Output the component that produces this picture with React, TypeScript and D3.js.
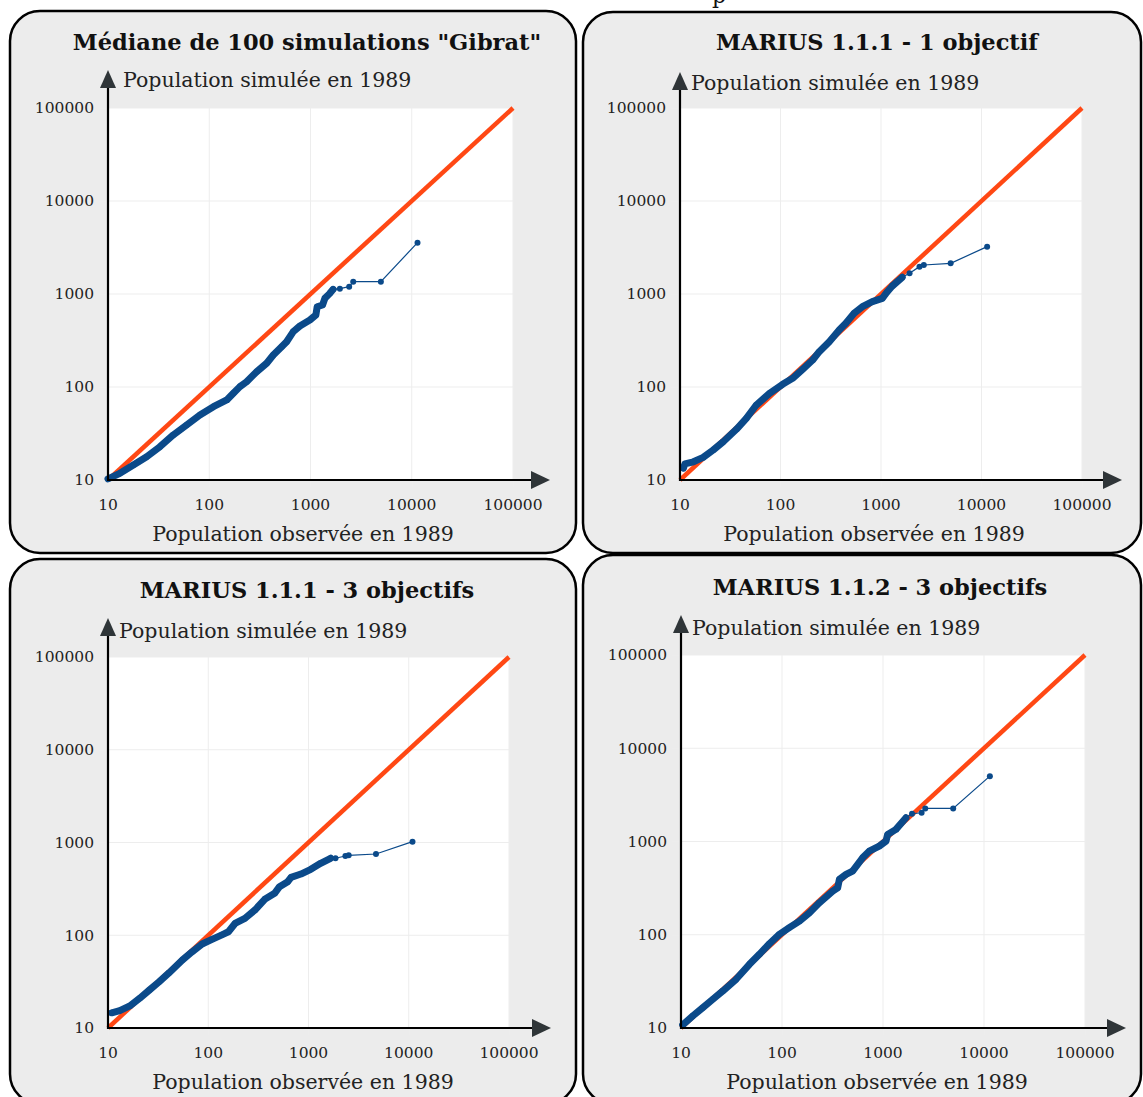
import React from 'react';
import * as d3 from 'd3';

const titles = [
  'Médiane de 100 simulations "Gibrat"',
  'MARIUS 1.1.1 - 1 objectif',
  'MARIUS 1.1.1 - 3 objectifs',
  'MARIUS 1.1.2 - 3 objectifs',
];
const tickValues = [10, 100, 1000, 10000, 100000];
const tickLabels = ['10', '100', '1000', '10000', '100000'];
const xAxisTitle = 'Population observée en 1989';
const yAxisTitle = 'Population simulée en 1989';

// Panel 1 : Médiane Gibrat
const obsGibrat = [10, 13.1, 17.8, 24.1, 32.6, 44.1, 59.8, 80.9, 110, 149, 173, 201, 234, 294, 369, 429, 519, 581, 676, 786, 986, 1130, 1164, 1315, 1387, 1553, 1675, 1950, 2410, 2642, 4955, 11400];
const simGibrat = [10.3, 11.8, 14.5, 17.8, 22.8, 30.5, 39, 50, 61.4, 72.5, 85.6, 101, 114, 146, 180, 221, 271, 307, 394, 453, 525, 594, 730, 762, 898, 1016, 1122, 1140, 1199, 1358, 1358, 3565];

// Panel 2 : MARIUS 1.1.1 - 1 objectif
const obsM111a = [10.8, 11.2, 13.6, 17, 21.4, 26.9, 36.4, 45.7, 57.4, 77.8, 105, 132, 166, 209, 243, 306, 384, 447, 540, 653, 820, 1030, 1156, 1295, 1626, 1924, 2415, 2667, 4932, 11380];
const simM111a = [13.4, 14.9, 15.7, 17.5, 21, 25.8, 35.1, 46, 64, 85.5, 107, 124, 155, 195, 240, 307, 410, 484, 620, 731, 827, 898, 1059, 1219, 1513, 1669, 1968, 2051, 2138, 3230];

// Panel 3 : MARIUS 1.1.1 - 3 objectifs
const obsM111c = [10.9, 13.1, 16.5, 20.7, 25.9, 32.5, 40.8, 55.2, 69.3, 86.9, 109, 137, 159, 185, 232, 292, 366, 459, 514, 621, 670, 840, 1054, 1322, 1660, 1859, 2333, 2518, 4710, 10900];
const simM111c = [14.6, 15.4, 17.3, 20.9, 25.7, 31.6, 39.5, 54.1, 66.5, 80.5, 90.4, 101, 109, 134, 152, 187, 244, 283, 334, 378, 421, 457, 514, 597, 676, 676, 715, 728, 752, 1021];

// Panel 4 : MARIUS 1.1.2 - 3 objectifs
const obsM112c = [10.4, 13.1, 16.4, 20.6, 25.9, 35.1, 47.6, 59.7, 75, 94.2, 118, 149, 187, 234, 318, 356, 370, 431, 500, 628, 731, 918, 1071, 1112, 1344, 1689, 1937, 2411, 2621, 4955, 11430];
const simM112c = [10.8, 13.5, 16.5, 20.3, 24.9, 33.3, 48.2, 61.7, 80.1, 101, 119, 140, 172, 220, 294, 319, 393, 444, 482, 668, 788, 893, 1010, 1191, 1349, 1796, 1983, 2032, 2264, 2264, 5020];

const seriesObs = [obsGibrat, obsM111a, obsM111c, obsM112c];
const seriesSim = [simGibrat, simM111a, simM111c, simM112c];

const layouts = [
  { box: [10, 11, 566, 542], plot: [108, 513, 108, 480], titleXY: [307, 50], xArrow: 550, yArrow: 70, yTitle: [123, 87], xTitle: [303, 541] },
  { box: [583, 12, 558, 541], plot: [680, 1082, 108, 480], titleXY: [877, 50], xArrow: 1122, yArrow: 72, yTitle: [691, 90], xTitle: [874, 541] },
  { box: [10, 559, 566, 545], plot: [108, 509, 657, 1028], titleXY: [307, 598], xArrow: 551, yArrow: 618, yTitle: [119, 638], xTitle: [303, 1089] },
  { box: [583, 555, 558, 549], plot: [681, 1085, 655, 1028], titleXY: [880, 595], xArrow: 1126, yArrow: 615, yTitle: [692, 635], xTitle: [877, 1089] },
];

const FONT = '"DejaVu Serif", serif';
const BLUE = '#0b4a8a';
const RED = '#ff4814';
const ARROW = '#2f3538';

function Panel({ lay, title, obs, sim }) {
  const [bx, by, bw, bh] = lay.box;
  const [px0, px1, pyTop, pyBot] = lay.plot;
  const x = d3.scaleLog().domain([10, 100000]).range([px0, px1]);
  const y = d3.scaleLog().domain([10, 100000]).range([pyBot, pyTop]);
  const pts = obs.map((o, i) => [x(o), y(sim[i])]);
  const line = d3.line();
  const nDense = pts.length - 5;
  const dense = pts.slice(0, nDense);
  return (
    <g>
      <rect x={bx} y={by} width={bw} height={bh} rx={30} ry={30} fill="#ececec" stroke="#000" strokeWidth={2.5} />
      <text x={lay.titleXY[0]} y={lay.titleXY[1]} textAnchor="middle" fontFamily={FONT} fontWeight="bold" fontSize={22.5} fill="#111">{title}</text>
      <rect x={px0} y={pyTop} width={px1 - px0} height={pyBot - pyTop} fill="#fff" />
      {tickValues.map((t) => (
        <line key={'gx' + t} x1={x(t)} x2={x(t)} y1={pyTop} y2={pyBot + 7} stroke="#ededed" strokeWidth={1} />
      ))}
      {tickValues.map((t) => (
        <line key={'gy' + t} x1={px0 - 9} x2={px1} y1={y(t)} y2={y(t)} stroke="#ededed" strokeWidth={1} />
      ))}
      <line x1={x(10)} y1={y(10)} x2={x(100000)} y2={y(100000)} stroke={RED} strokeWidth={4.5} />
      <path d={line(dense)} fill="none" stroke={BLUE} strokeWidth={7} strokeLinecap="round" strokeLinejoin="round" />
      <path d={line(pts)} fill="none" stroke={BLUE} strokeWidth={1.2} />
      {pts.map((p, i) => (
        <circle key={i} cx={p[0]} cy={p[1]} r={3} fill={BLUE} />
      ))}
      <line x1={px0} y1={pyBot} x2={lay.xArrow - 16} y2={pyBot} stroke="#000" strokeWidth={2.2} />
      <path d={`M${lay.xArrow},${pyBot} L${lay.xArrow - 19},${pyBot - 9} L${lay.xArrow - 19},${pyBot + 9} Z`} fill={ARROW} />
      <line x1={px0} y1={pyBot + 1} x2={px0} y2={lay.yArrow + 16} stroke="#000" strokeWidth={2.2} />
      <path d={`M${px0},${lay.yArrow} L${px0 - 8},${lay.yArrow + 18} L${px0 + 8},${lay.yArrow + 18} Z`} fill={ARROW} />
      {tickValues.map((t, i) => (
        <text key={'ly' + t} x={px0 - 14} y={y(t)} dy="0.35em" textAnchor="end" fontFamily={FONT} fontSize={15.5} fill="#222">{tickLabels[i]}</text>
      ))}
      {tickValues.map((t, i) => (
        <text key={'lx' + t} x={x(t)} y={pyBot + 30} textAnchor="middle" fontFamily={FONT} fontSize={15.5} fill="#222">{tickLabels[i]}</text>
      ))}
      <text x={lay.yTitle[0]} y={lay.yTitle[1]} fontFamily={FONT} fontSize={20.5} fill="#222">{yAxisTitle}</text>
      <text x={lay.xTitle[0]} y={lay.xTitle[1]} textAnchor="middle" fontFamily={FONT} fontSize={20.5} fill="#222">{xAxisTitle}</text>
    </g>
  );
}

export default function App() {
  return (
    <svg width={1143} height={1097} style={{ position: 'absolute', left: 0, top: 0, background: '#fff' }}>
      <rect x={0} y={0} width={1143} height={1097} fill="#fff" />
      <text x={712} y={3} fontFamily={FONT} fontSize={22} fill="#111">p</text>
      {layouts.map((lay, i) => (
        <Panel key={i} lay={lay} title={titles[i]} obs={seriesObs[i]} sim={seriesSim[i]} />
      ))}
    </svg>
  );
}
